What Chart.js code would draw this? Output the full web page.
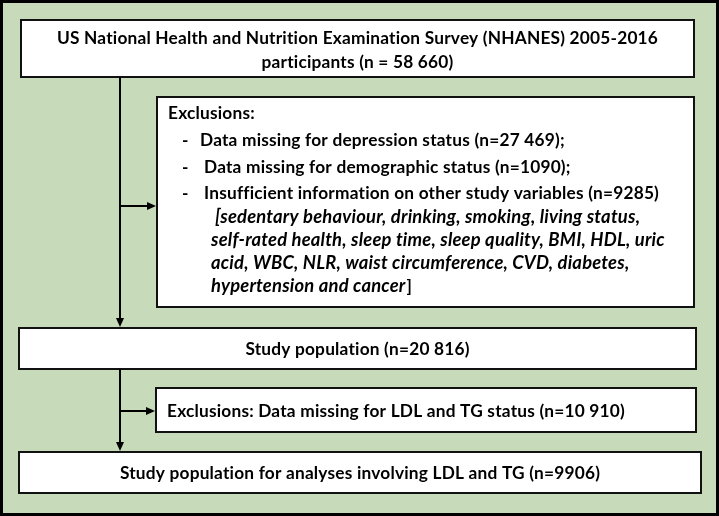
<!DOCTYPE html>
<html>
<head>
<meta charset="utf-8">
<script src="https://cdn.jsdelivr.net/npm/chart.js@4"></script>
<style>
  html, body { margin: 0; padding: 0; background: #fff; }
  canvas { display: block; }
</style>
</head>
<body>
<canvas id="flowChart" width="719" height="516"></canvas>
<script>
// participant counts at each step of the flow
const stepNames = ['total', 'noDepression', 'noDemographic', 'noCovariates', 'studyPop', 'noLipids', 'lipidPop'];
const counts = [58660, 27469, 1090, 9285, 20816, 10910, 9906];

const surveyTitle = 'US National Health and Nutrition Examination Survey (NHANES) 2005-2016';
const exclusionReasons = [
  'Data missing for depression status',
  'Data missing for demographic status',
  'Insufficient information on other study variables'
];
const covariateLines = [
  '[sedentary behaviour, drinking, smoking, living status,',
  'self-rated health, sleep time, sleep quality, BMI, HDL, uric',
  'acid, WBC, NLR, waist circumference, CVD, diabetes,',
  'hypertension and cancer'
];

// numbers of 5+ digits are grouped with a space like the source figure
const fmt = n => n >= 10000 ? String(n).replace(/\B(?=(\d{3})+(?!\d))/g, ' ') : String(n);

// box layout in chart units (x: 0-719, y: 0-516)
const boxes = [
  { x0: 21, y0: 20, x1: 694, y1: 77 },
  { x0: 157, y0: 97, x1: 694, y1: 307 },
  { x0: 19, y0: 328, x1: 696, y1: 369 },
  { x0: 156, y0: 388, x1: 696, y1: 432 },
  { x0: 19, y0: 452, x1: 701, y1: 493 }
];
const trunkX = 120;

const FONT = 'Lato, "Open Sans", sans-serif';
const BG = '#c7dab9';

const flowPlugin = {
  id: 'flow',
  beforeDraw(chart) {
    const { ctx, scales: { x, y } } = chart;
    ctx.save();
    ctx.fillStyle = BG;
    ctx.fillRect(x.getPixelForValue(0), y.getPixelForValue(0), x.getPixelForValue(719), y.getPixelForValue(516));
    ctx.strokeStyle = '#000';
    ctx.lineWidth = 3;
    ctx.strokeRect(x.getPixelForValue(1.5), y.getPixelForValue(1.5),
      x.getPixelForValue(716), y.getPixelForValue(513));
    ctx.restore();
  },
  afterDraw(chart) {
    const { ctx, scales: { x, y } } = chart;
    const px = v => x.getPixelForValue(v);
    const py = v => y.getPixelForValue(v);

    ctx.save();
    // boxes
    boxes.forEach(b => {
      ctx.fillStyle = '#fff';
      ctx.fillRect(px(b.x0), py(b.y0), px(b.x1) - px(b.x0), py(b.y1) - py(b.y0));
      ctx.strokeStyle = '#111';
      ctx.lineWidth = 2;
      ctx.strokeRect(px(b.x0), py(b.y0), px(b.x1) - px(b.x0), py(b.y1) - py(b.y0));
    });

    // connectors
    const line = (x0, y0, x1, y1) => {
      ctx.beginPath();
      ctx.moveTo(px(x0), py(y0));
      ctx.lineTo(px(x1), py(y1));
      ctx.stroke();
    };
    const headRight = (xt, yt) => {
      ctx.beginPath();
      ctx.moveTo(px(xt), py(yt));
      ctx.lineTo(px(xt - 9), py(yt - 4));
      ctx.lineTo(px(xt - 9), py(yt + 4));
      ctx.closePath();
      ctx.fill();
    };
    const headDown = (xt, yt) => {
      ctx.beginPath();
      ctx.moveTo(px(xt), py(yt));
      ctx.lineTo(px(xt - 4), py(yt - 9));
      ctx.lineTo(px(xt + 4), py(yt - 9));
      ctx.closePath();
      ctx.fill();
    };
    ctx.strokeStyle = '#000';
    ctx.fillStyle = '#000';
    ctx.lineWidth = 2;
    line(trunkX, boxes[0].y1, trunkX, boxes[2].y0 - 3);
    headDown(trunkX, boxes[2].y0 - 1);
    line(trunkX, 206, boxes[1].x0 - 3, 206);
    headRight(boxes[1].x0 - 1, 206);
    line(trunkX, boxes[2].y1, trunkX, boxes[4].y0 - 3);
    headDown(trunkX, boxes[4].y0 - 1);
    line(trunkX, 411, boxes[3].x0 - 3, 411);
    headRight(boxes[3].x0 - 1, 411);

    // text
    const bold = '700 17.3px ' + FONT;
    const italic = 'italic 700 18.4px ' + FONT;
    ctx.fillStyle = '#000';
    ctx.textBaseline = 'middle';
    ctx.letterSpacing = '0.2px'; // also keeps Lato from forming "ti"/"fi" ligatures
    const text = (s, xv, yv, font, align) => {
      ctx.font = font;
      ctx.textAlign = align || 'left';
      ctx.fillText(s, px(xv), py(yv));
    };

    const mid = b => (b.x0 + b.x1) / 2;
    text(surveyTitle, mid(boxes[0]), 38, bold, 'center');
    text('participants (n = ' + fmt(counts[0]) + ')', mid(boxes[0]), 62, bold, 'center');

    text('Exclusions:', 168, 113, bold);
    const reasonY = [140, 167, 193];
    const ends = [';', ';', ''];
    exclusionReasons.forEach((r, i) => {
      text('-', 182, reasonY[i], bold);
      text(r + ' (n=' + fmt(counts[i + 1]) + ')' + ends[i], i === 0 ? 200 : 204, reasonY[i], bold);
    });
    const covX = [215, 211, 211, 211];
    const covY = [217, 240, 263, 286];
    covariateLines.forEach((s, i) => {
      text(s, covX[i], covY[i], italic);
      if (i === covariateLines.length - 1) {
        ctx.font = italic;
        const w = ctx.measureText(s).width;
        text(']', covX[i] + w + 1, covY[i], bold);
      }
    });

    text('Study population (n=' + fmt(counts[4]) + ')', mid(boxes[2]), 349, bold, 'center');
    text('Exclusions: Data missing for LDL and TG status (n=' + fmt(counts[5]) + ')', 167, 411, bold);
    text('Study population for analyses involving LDL and TG (n=' + fmt(counts[6]) + ')', mid(boxes[4]), 473, bold, 'center');
    ctx.restore();
  }
};

new Chart(document.getElementById('flowChart'), {
  type: 'scatter',
  data: {
    labels: stepNames,
    datasets: [{ data: [], showLine: false }]
  },
  options: {
    responsive: false,
    animation: false,
    devicePixelRatio: 1,
    layout: { padding: 0 },
    plugins: { legend: { display: false }, tooltip: { enabled: false } },
    scales: {
      x: { type: 'linear', min: 0, max: 719, display: false },
      y: { type: 'linear', min: 0, max: 516, reverse: true, display: false }
    }
  },
  plugins: [flowPlugin]
});
</script>
</body>
</html>
